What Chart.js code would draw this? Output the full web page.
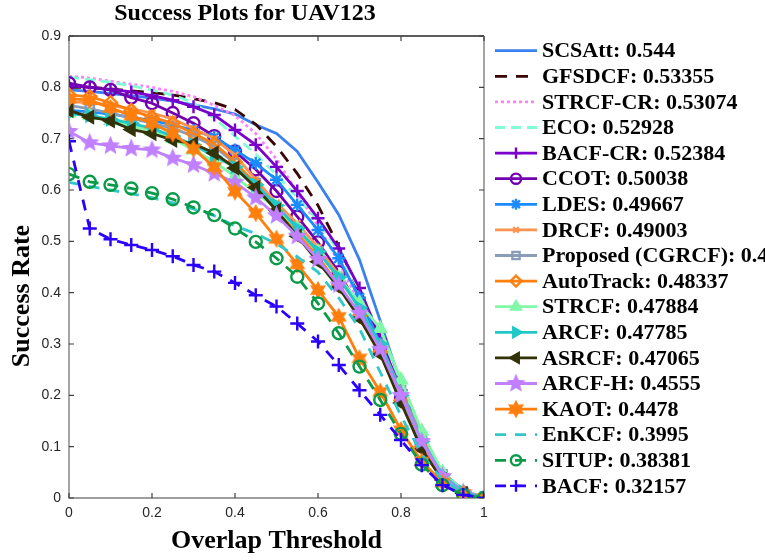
<!DOCTYPE html>
<html>
<head>
<meta charset="utf-8">
<script src="https://cdn.jsdelivr.net/npm/chart.js@4.4.0/dist/chart.umd.min.js"></script>
<style>
  html, body { margin: 0; padding: 0; background: #ffffff; }
  #wrap { width: 765px; height: 560px; position: relative; overflow: hidden; }
</style>
</head>
<body>
<div id="wrap"><canvas id="c" width="765" height="560"></canvas></div>
<script>
// Overlap thresholds (x axis) and success rates per tracker
const thresholds = [0, 0.05, 0.1, 0.15, 0.2, 0.25, 0.3, 0.35, 0.4, 0.45, 0.5, 0.55, 0.6, 0.65, 0.7, 0.75, 0.8, 0.85, 0.9, 0.95, 1];

const trackerNames = ['SCSAtt: 0.544', 'GFSDCF: 0.53355', 'STRCF-CR: 0.53074', 'ECO: 0.52928', 'BACF-CR: 0.52384',
  'CCOT: 0.50038', 'LDES: 0.49667', 'DRCF: 0.49003', 'Proposed (CGRCF): 0.48558', 'AutoTrack: 0.48337', 'STRCF: 0.47884',
  'ARCF: 0.47785', 'ASRCF: 0.47065', 'ARCF-H: 0.4555', 'KAOT: 0.4478', 'EnKCF: 0.3995', 'SITUP: 0.38381', 'BACF: 0.32157'];

const scsatt    = [0.795, 0.792, 0.788, 0.784, 0.779, 0.773, 0.766, 0.758, 0.748, 0.727, 0.710, 0.675, 0.615, 0.552, 0.464, 0.345, 0.220, 0.120, 0.050, 0.015, 0];
const gfsdcf    = [0.800, 0.800, 0.797, 0.793, 0.790, 0.785, 0.778, 0.770, 0.757, 0.728, 0.685, 0.632, 0.570, 0.490, 0.400, 0.290, 0.190, 0.100, 0.040, 0.012, 0];
const strcfCr   = [0.822, 0.818, 0.812, 0.806, 0.800, 0.792, 0.782, 0.765, 0.745, 0.710, 0.660, 0.595, 0.530, 0.460, 0.380, 0.290, 0.210, 0.120, 0.050, 0.015, 0];
const eco       = [0.820, 0.815, 0.810, 0.803, 0.795, 0.785, 0.770, 0.740, 0.705, 0.670, 0.630, 0.585, 0.540, 0.480, 0.405, 0.320, 0.225, 0.125, 0.050, 0.013, 0];
const bacfCr    = [0.803, 0.800, 0.796, 0.791, 0.784, 0.775, 0.762, 0.746, 0.717, 0.688, 0.645, 0.598, 0.545, 0.486, 0.409, 0.310, 0.210, 0.115, 0.045, 0.012, 0];
const ccot      = [0.808, 0.800, 0.795, 0.780, 0.769, 0.750, 0.730, 0.705, 0.675, 0.640, 0.598, 0.548, 0.498, 0.440, 0.370, 0.290, 0.195, 0.105, 0.040, 0.010, 0];
const ldes      = [0.755, 0.752, 0.748, 0.742, 0.735, 0.727, 0.716, 0.703, 0.678, 0.652, 0.620, 0.571, 0.522, 0.467, 0.390, 0.300, 0.200, 0.110, 0.045, 0.012, 0];
const drcf      = [0.772, 0.770, 0.765, 0.758, 0.750, 0.738, 0.720, 0.700, 0.668, 0.620, 0.575, 0.535, 0.488, 0.435, 0.370, 0.295, 0.200, 0.108, 0.042, 0.010, 0];
const proposed  = [0.765, 0.758, 0.750, 0.740, 0.730, 0.720, 0.705, 0.685, 0.652, 0.613, 0.567, 0.522, 0.480, 0.428, 0.370, 0.300, 0.210, 0.118, 0.046, 0.009, 0];
const autotrack = [0.785, 0.782, 0.770, 0.755, 0.742, 0.730, 0.710, 0.690, 0.655, 0.610, 0.560, 0.515, 0.470, 0.415, 0.355, 0.285, 0.190, 0.100, 0.040, 0.010, 0];
const strcf     = [0.750, 0.745, 0.735, 0.725, 0.715, 0.700, 0.678, 0.655, 0.626, 0.594, 0.565, 0.525, 0.480, 0.430, 0.380, 0.330, 0.230, 0.130, 0.050, 0.012, 0];
const arcf      = [0.749, 0.745, 0.738, 0.730, 0.720, 0.705, 0.688, 0.665, 0.645, 0.610, 0.570, 0.525, 0.480, 0.430, 0.370, 0.300, 0.200, 0.110, 0.045, 0.012, 0];
const asrcf     = [0.755, 0.742, 0.735, 0.718, 0.710, 0.697, 0.690, 0.672, 0.643, 0.605, 0.560, 0.510, 0.460, 0.410, 0.350, 0.280, 0.185, 0.095, 0.035, 0.009, 0];
const arcfH     = [0.714, 0.692, 0.686, 0.681, 0.678, 0.662, 0.649, 0.632, 0.615, 0.585, 0.550, 0.510, 0.465, 0.415, 0.360, 0.290, 0.200, 0.110, 0.042, 0.010, 0];
const kaot      = [0.778, 0.775, 0.760, 0.745, 0.730, 0.710, 0.680, 0.645, 0.597, 0.555, 0.505, 0.455, 0.405, 0.353, 0.272, 0.207, 0.132, 0.071, 0.030, 0.008, 0];
const enkcf     = [0.615, 0.607, 0.600, 0.593, 0.585, 0.575, 0.563, 0.550, 0.530, 0.515, 0.495, 0.470, 0.440, 0.390, 0.330, 0.245, 0.160, 0.085, 0.035, 0.010, 0];
const situp     = [0.631, 0.616, 0.610, 0.603, 0.594, 0.582, 0.566, 0.551, 0.525, 0.499, 0.467, 0.431, 0.379, 0.321, 0.256, 0.191, 0.125, 0.065, 0.025, 0.006, 0];
const bacf      = [0.695, 0.525, 0.504, 0.493, 0.483, 0.471, 0.454, 0.441, 0.419, 0.395, 0.373, 0.340, 0.305, 0.259, 0.210, 0.162, 0.113, 0.064, 0.025, 0.006, 0];

const xTickLabels = ['0', '0.2', '0.4', '0.6', '0.8', '1'];
const yTickLabels = ['0', '0.1', '0.2', '0.3', '0.4', '0.5', '0.6', '0.7', '0.8', '0.9'];

// Filled polygon star markers (5-point and 6-point)
function starMarker(color, points, outer, inner) {
  const size = Math.ceil(outer * 2 + 4);
  const cv = document.createElement('canvas');
  cv.width = size; cv.height = size;
  const g = cv.getContext('2d');
  const c = size / 2;
  g.beginPath();
  for (let i = 0; i < points * 2; i++) {
    const r = i % 2 === 0 ? outer : inner;
    const a = -Math.PI / 2 + i * Math.PI / points;
    const px = c + r * Math.cos(a), py = c + r * Math.sin(a);
    if (i === 0) g.moveTo(px, py); else g.lineTo(px, py);
  }
  g.closePath();
  g.fillStyle = color; g.fill();
  g.lineWidth = 1.2; g.strokeStyle = color; g.stroke();
  return cv;
}

const series = [scsatt, gfsdcf, strcfCr, eco, bacfCr, ccot, ldes, drcf, proposed, autotrack, strcf, arcf, asrcf, arcfH, kaot, enkcf, situp, bacf];

const styles = [
  { color: '#3a80f0', dash: [],      marker: false },
  { color: '#3a0505', dash: [12, 9], marker: false },
  { color: '#ff80ff', dash: [3, 3],  marker: false },
  { color: '#80ffd4', dash: [10, 6], marker: false },
  { color: '#7a00cc', dash: [],      marker: 'cross',    fill: false, r: 6.5 },
  { color: '#7300b0', dash: [],      marker: 'circle',   fill: false, r: 6 },
  { color: '#1a8cff', dash: [],      marker: 'star',     fill: false, r: 6.5 },
  { color: '#ff9450', dash: [],      marker: 'crossRot', fill: false, r: 4.5 },
  { color: '#8a9cb8', dash: [],      marker: 'rect',     fill: false, r: 6 },
  { color: '#ff8010', dash: [],      marker: 'rectRot',  fill: false, r: 6.5 },
  { color: '#80f8a8', dash: [],      marker: 'triangle', fill: true,  r: 6.5 },
  { color: '#20c8c8', dash: [],      marker: 'triangle', fill: true,  r: 6.5, rot: 90 },
  { color: '#33330a', dash: [],      marker: 'triangle', fill: true,  r: 6.5, rot: -90 },
  { color: '#c080ff', dash: [],      marker: 'star5',    r: 7 },
  { color: '#ff7f0e', dash: [],      marker: 'star6',    r: 7 },
  { color: '#30c8c8', dash: [11, 9], marker: false },
  { color: '#0a9a48', dash: [11, 9], marker: 'circle',   fill: false, r: 6 },
  { color: '#2a00ff', dash: [11, 9], marker: 'cross',    fill: false, r: 7 }
];

function pointStyleFor(s) {
  if (s.marker === 'star5') return starMarker(s.color, 5, 8.5, 3.8);
  if (s.marker === 'star6') return starMarker(s.color, 6, 8, 4.4);
  return s.marker;
}

const datasets = series.map((vals, i) => {
  const s = styles[i];
  const ps = s.marker ? pointStyleFor(s) : 'circle';
  return {
    label: trackerNames[i],
    data: thresholds.map((t, k) => ({ x: t, y: vals[k] })),
    borderColor: s.color,
    borderWidth: 2.8,
    borderDash: s.dash,
    tension: 0,
    fill: false,
    pointStyle: ps,
    pointRadius: s.marker ? s.r : 0,
    pointHoverRadius: s.marker ? s.r : 0,
    pointRotation: s.rot || 0,
    pointBorderWidth: 2.4,
    pointBorderColor: s.color,
    pointBackgroundColor: s.fill ? s.color : '#ffffff00',
    order: series.length - 1 - i
  };
});

const AXIS_FONT = '"Liberation Sans", Arial, sans-serif';
const SERIF = '"Liberation Serif", "Times New Roman", serif';

// Box frame with inward ticks on all four sides
const framePlugin = {
  id: 'frame',
  beforeDatasetsDraw(chart) {
    const { ctx, chartArea: a, scales } = chart;
    const x = scales.x, y = scales.y;
    ctx.save();
    ctx.lineWidth = 1.4;
    ctx.strokeStyle = '#7f7f7f';
    ctx.beginPath();
    ctx.moveTo(a.left, a.top); ctx.lineTo(a.left, a.bottom); ctx.lineTo(a.right, a.bottom); ctx.lineTo(a.right, a.top);
    ctx.stroke();
    ctx.strokeStyle = '#262626';
    ctx.beginPath(); ctx.moveTo(a.left, a.top); ctx.lineTo(a.right, a.top); ctx.stroke();
    ctx.lineWidth = 1.2;
    ctx.strokeStyle = '#404040';
    ctx.beginPath();
    x.ticks.forEach(t => {
      const px = x.getPixelForValue(t.value);
      ctx.moveTo(px, a.bottom); ctx.lineTo(px, a.bottom - 5);
      ctx.moveTo(px, a.top); ctx.lineTo(px, a.top + 5);
    });
    y.ticks.forEach(t => {
      const py = y.getPixelForValue(t.value);
      ctx.moveTo(a.left, py); ctx.lineTo(a.left + 5, py);
      ctx.moveTo(a.right, py); ctx.lineTo(a.right - 5, py);
    });
    ctx.stroke();
    ctx.restore();
  }
};

// Title, axis titles and the legend column at the right
const textPlugin = {
  id: 'texts',
  afterDraw(chart) {
    const { ctx, chartArea: a } = chart;
    ctx.save();
    ctx.fillStyle = '#000000';
    ctx.textAlign = 'center';
    ctx.textBaseline = 'middle';
    ctx.font = 'bold 24px ' + SERIF;
    ctx.fillText('Success Plots for UAV123', 245, 14);
    ctx.font = 'bold 26px ' + SERIF;
    ctx.fillText('Overlap Threshold', (a.left + a.right) / 2, 541);
    ctx.save();
    ctx.translate(22, 296);
    ctx.rotate(-Math.PI / 2);
    ctx.fillText('Success Rate', 0, 0);
    ctx.restore();

    // legend
    const x0 = 495, x1 = 537, y0 = 50.7, dy = 25.6;
    chart.data.datasets.forEach((ds, i) => {
      const yy = y0 + dy * i;
      ctx.save();
      ctx.strokeStyle = ds.borderColor;
      ctx.lineWidth = ds.borderWidth;
      ctx.setLineDash(ds.borderDash || []);
      ctx.beginPath(); ctx.moveTo(x0, yy); ctx.lineTo(x1, yy); ctx.stroke();
      ctx.setLineDash([]);
      if (ds.pointRadius > 0) {
        ctx.strokeStyle = ds.pointBorderColor;
        ctx.fillStyle = ds.pointBackgroundColor;
        ctx.lineWidth = ds.pointBorderWidth;
        Chart.helpers.drawPoint(ctx, {
          pointStyle: ds.pointStyle,
          rotation: ds.pointRotation,
          radius: ds.pointRadius * 0.85,
          borderWidth: ds.pointBorderWidth
        }, (x0 + x1) / 2, yy);
      }
      ctx.restore();
      ctx.fillStyle = '#000000';
      ctx.font = 'bold 22px ' + SERIF;
      ctx.textAlign = 'left';
      ctx.textBaseline = 'middle';
      ctx.fillText(ds.label, 542, yy + 1);
    });
    ctx.restore();
  }
};

new Chart(document.getElementById('c'), {
  type: 'line',
  data: { datasets },
  options: {
    responsive: false,
    animation: false,
    events: [],
    layout: { padding: { left: 0, right: 281, top: 36, bottom: 0 } },
    plugins: { legend: { display: false }, title: { display: false }, tooltip: { enabled: false } },
    scales: {
      x: {
        type: 'linear', min: 0, max: 1,
        grid: { display: false, drawTicks: false },
        border: { display: false },
        ticks: {
          stepSize: 0.2, padding: 7, color: '#262626', font: { family: AXIS_FONT, size: 14 },
          callback: (v) => xTickLabels[Math.round(v / 0.2)]
        },
        afterFit: (s) => { s.height = 62; }
      },
      y: {
        type: 'linear', min: 0, max: 0.9,
        grid: { display: false, drawTicks: false },
        border: { display: false },
        ticks: {
          stepSize: 0.1, padding: 8, color: '#262626', font: { family: AXIS_FONT, size: 14 },
          callback: (v) => yTickLabels[Math.round(v / 0.1)]
        },
        afterFit: (s) => { s.width = 69; }
      }
    }
  },
  plugins: [framePlugin, textPlugin]
});
</script>
</body>
</html>
